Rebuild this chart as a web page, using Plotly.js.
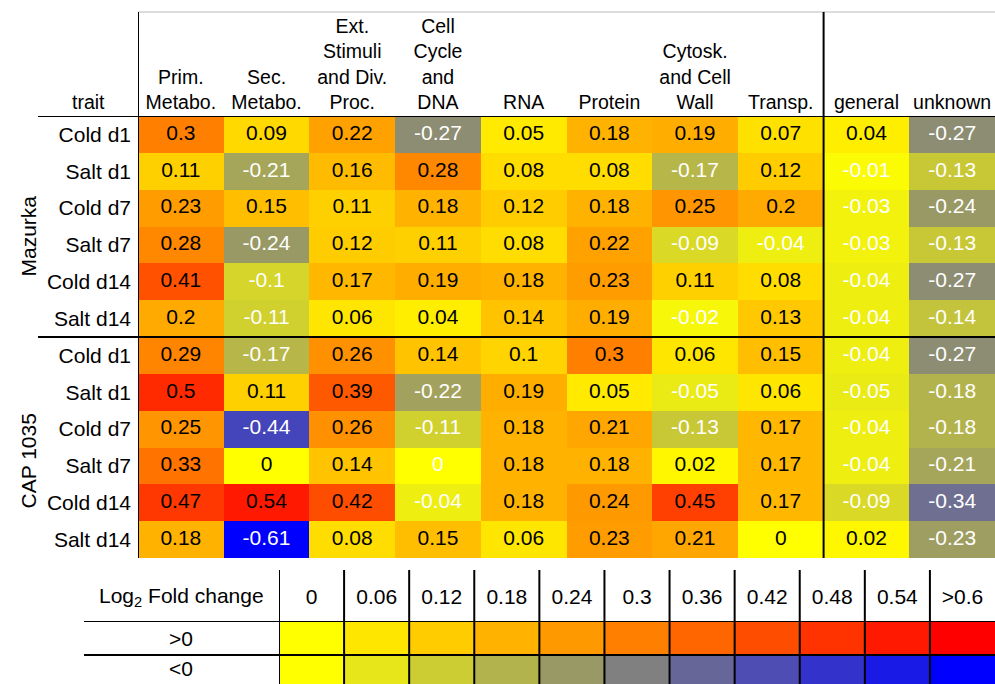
<!DOCTYPE html>
<html>
<head>
<meta charset="utf-8">
<script src="https://cdn.plot.ly/plotly-3.0.1.min.js"></script>
<style>html,body{margin:0;padding:0;background:#fff;}#chart{width:995px;height:684px;}</style>
</head>
<body>
<div id="chart"></div>
<script>
// ---- data ----
const columns = ['Prim.<br>Metabo.', 'Sec.<br>Metabo.', 'Ext.<br>Stimuli<br>and Div.<br>Proc.', 'Cell<br>Cycle<br>and<br>DNA', 'RNA', 'Protein', 'Cytosk.<br>and Cell<br>Wall', 'Transp.', 'general', 'unknown'];
const rowLabels = ['Cold d1', 'Salt d1', 'Cold d7', 'Salt d7', 'Cold d14', 'Salt d14', 'Cold d1', 'Salt d1', 'Cold d7', 'Salt d7', 'Cold d14', 'Salt d14'];
const groups = ['Mazurka', 'CAP 1035'];
const mazColdD1  = [0.3, 0.09, 0.22, -0.27, 0.05, 0.18, 0.19, 0.07, 0.04, -0.27];
const mazSaltD1  = [0.11, -0.21, 0.16, 0.28, 0.08, 0.08, -0.17, 0.12, -0.01, -0.13];
const mazColdD7  = [0.23, 0.15, 0.11, 0.18, 0.12, 0.18, 0.25, 0.2, -0.03, -0.24];
const mazSaltD7  = [0.28, -0.24, 0.12, 0.11, 0.08, 0.22, -0.09, -0.04, -0.03, -0.13];
const mazColdD14 = [0.41, -0.1, 0.17, 0.19, 0.18, 0.23, 0.11, 0.08, -0.04, -0.27];
const mazSaltD14 = [0.2, -0.11, 0.06, 0.04, 0.14, 0.19, -0.02, 0.13, -0.04, -0.14];
const capColdD1  = [0.29, -0.17, 0.26, 0.14, 0.1, 0.3, 0.06, 0.15, -0.04, -0.27];
const capSaltD1  = [0.5, 0.11, 0.39, -0.22, 0.19, 0.05, -0.05, 0.06, -0.05, -0.18];
const capColdD7  = [0.25, -0.44, 0.26, -0.11, 0.18, 0.21, -0.13, 0.17, -0.04, -0.18];
const capSaltD7  = [0.33, 0, 0.14, -0, 0.18, 0.18, 0.02, 0.17, -0.04, -0.21];
const capColdD14 = [0.47, 0.54, 0.42, -0.04, 0.18, 0.24, 0.45, 0.17, -0.09, -0.34];
const capSaltD14 = [0.18, -0.61, 0.08, 0.15, 0.06, 0.23, 0.21, 0, 0.02, -0.23];
const legendLabels = ['0', '0.06', '0.12', '0.18', '0.24', '0.3', '0.36', '0.42', '0.48', '0.54', '>0.6'];
const legendPos = [0, 0.06, 0.12, 0.18, 0.24, 0.3, 0.36, 0.42, 0.48, 0.54, 0.6];
const legendNeg = [-0, -0.06, -0.12, -0.18, -0.24, -0.3, -0.36, -0.42, -0.48, -0.54, -0.6];
const legendRows = ['<0', '>0'];

// ---- build ----
const Z = [mazColdD1, mazSaltD1, mazColdD7, mazSaltD7, mazColdD14, mazSaltD14,
           capColdD1, capSaltD1, capColdD7, capSaltD7, capColdD14, capSaltD14];
const colIdx = columns.map((c, i) => i);
const rowIdx = rowLabels.map((r, i) => i);
const cscale = [[0, 'rgb(0,0,255)'], [0.25, 'rgb(128,128,128)'], [0.5, 'rgb(255,255,0)'], [1, 'rgb(255,0,0)']];
const FONT = 'Liberation Sans, Arial, sans-serif';
const FS = 21;
const HFS = 19.5;

const tx = [], ty = [], tt = [], tc = [];
Z.forEach((row, r) => row.forEach((v, c) => {
  tx.push(c); ty.push(r); tt.push(String(v));
  tc.push((v < 0 || Object.is(v, -0)) ? '#ffffff' : '#000000');
}));

const traces = [
  {type: 'heatmap', z: Z, x: colIdx, y: rowIdx, zmin: -0.6, zmax: 0.6, colorscale: cscale,
   showscale: false, hoverinfo: 'skip', xaxis: 'x', yaxis: 'y'},
  {type: 'scatter', mode: 'text', x: tx, y: ty, text: tt, textposition: 'middle center',
   textfont: {family: FONT, size: FS, color: tc}, hoverinfo: 'skip', showlegend: false, xaxis: 'x', yaxis: 'y'},
  {type: 'heatmap', z: [legendNeg, legendPos], x: legendLabels.map((l, i) => i), y: [0, 1],
   zmin: -0.6, zmax: 0.6, colorscale: cscale, showscale: false, hoverinfo: 'skip', xaxis: 'x2', yaxis: 'y2'}
];

const W = 995, H = 684;
const px = v => v / W, py = v => 1 - v / H;
const line = (x0, y0, x1, y1, xref, yref, col, w) => ({type: 'line', x0, y0, x1, y1, xref, yref, line: {color: col || '#000', width: w || 2}, layer: 'above'});

const shapes = [
  line(px(138), py(12), 1, py(12), 'paper', 'paper', '#bbbbbb', 1),
  line(-0.5, py(12), -0.5, py(558), 'x', 'paper'),
  line(7.5, py(12), 7.5, py(558), 'x', 'paper'),
  line(px(38), -0.5, 1, -0.5, 'paper', 'y'),
  line(px(38), 5.5, 1, 5.5, 'paper', 'y'),
  line(px(84), 1.5, 1, 1.5, 'paper', 'y2'),
  line(px(84), 0.5, 1, 0.5, 'paper', 'y2')
];
legendLabels.forEach((l, i) => shapes.push(line(i - 0.5, py(570), i - 0.5, 0, 'x2', 'paper')));

const ann = (text, x, y, xref, yref, extra) => Object.assign({text, x, y, xref, yref, xanchor: 'center', yanchor: 'middle',
  showarrow: false, font: {family: FONT, size: FS, color: '#000'}}, extra || {});
const annotations = [
  ann('trait', px(88), py(102), 'paper', 'paper', {font: {family: FONT, size: HFS, color: '#000'}}),
  ann(groups[0], px(28), 2.5, 'paper', 'y', {yshift: -10, textangle: -90}),
  ann(groups[1], px(28), 8.5, 'paper', 'y', {yshift: -14, textangle: -90}),
  ann('Log<sub>2</sub> Fold change', px(181), py(597), 'paper', 'paper'),
  ann(legendRows[1], px(181), 1, 'paper', 'y2'),
  ann(legendRows[0], px(181), 0, 'paper', 'y2', {yshift: 4})
];

const layout = {
  width: W, height: H, margin: {l: 0, r: 0, t: 0, b: 0}, paper_bgcolor: '#fff', plot_bgcolor: '#fff',
  showlegend: false, font: {family: FONT, size: FS, color: '#000'},
  xaxis: {domain: [px(138), 1], range: [-0.5, 9.5], side: 'top', tickvals: colIdx, ticktext: columns,
          tickfont: {family: FONT, size: HFS, color: '#000'},
          ticks: '', showgrid: false, zeroline: false, showline: false, fixedrange: true, ticklabelstandoff: 2},
  yaxis: {domain: [py(558), py(116)], range: [11.5, -0.5], tickvals: rowIdx, ticktext: rowLabels,
          ticks: '', showgrid: false, zeroline: false, showline: false, fixedrange: true, ticklabelstandoff: 6},
  xaxis2: {domain: [px(279), 1], range: [-0.5, 10.5], side: 'top', anchor: 'y2', tickvals: legendLabels.map((l, i) => i),
           ticktext: legendLabels, ticks: '', showgrid: false, zeroline: false, showline: false, fixedrange: true, ticklabelstandoff: 12},
  yaxis2: {domain: [0, py(621)], range: [-0.35, 1.5], anchor: 'x2', showticklabels: false, ticks: '',
           showgrid: false, zeroline: false, showline: false, fixedrange: true},
  shapes, annotations
};

Plotly.newPlot('chart', traces, layout, {displayModeBar: false, staticPlot: true});
</script>
</body>
</html>
